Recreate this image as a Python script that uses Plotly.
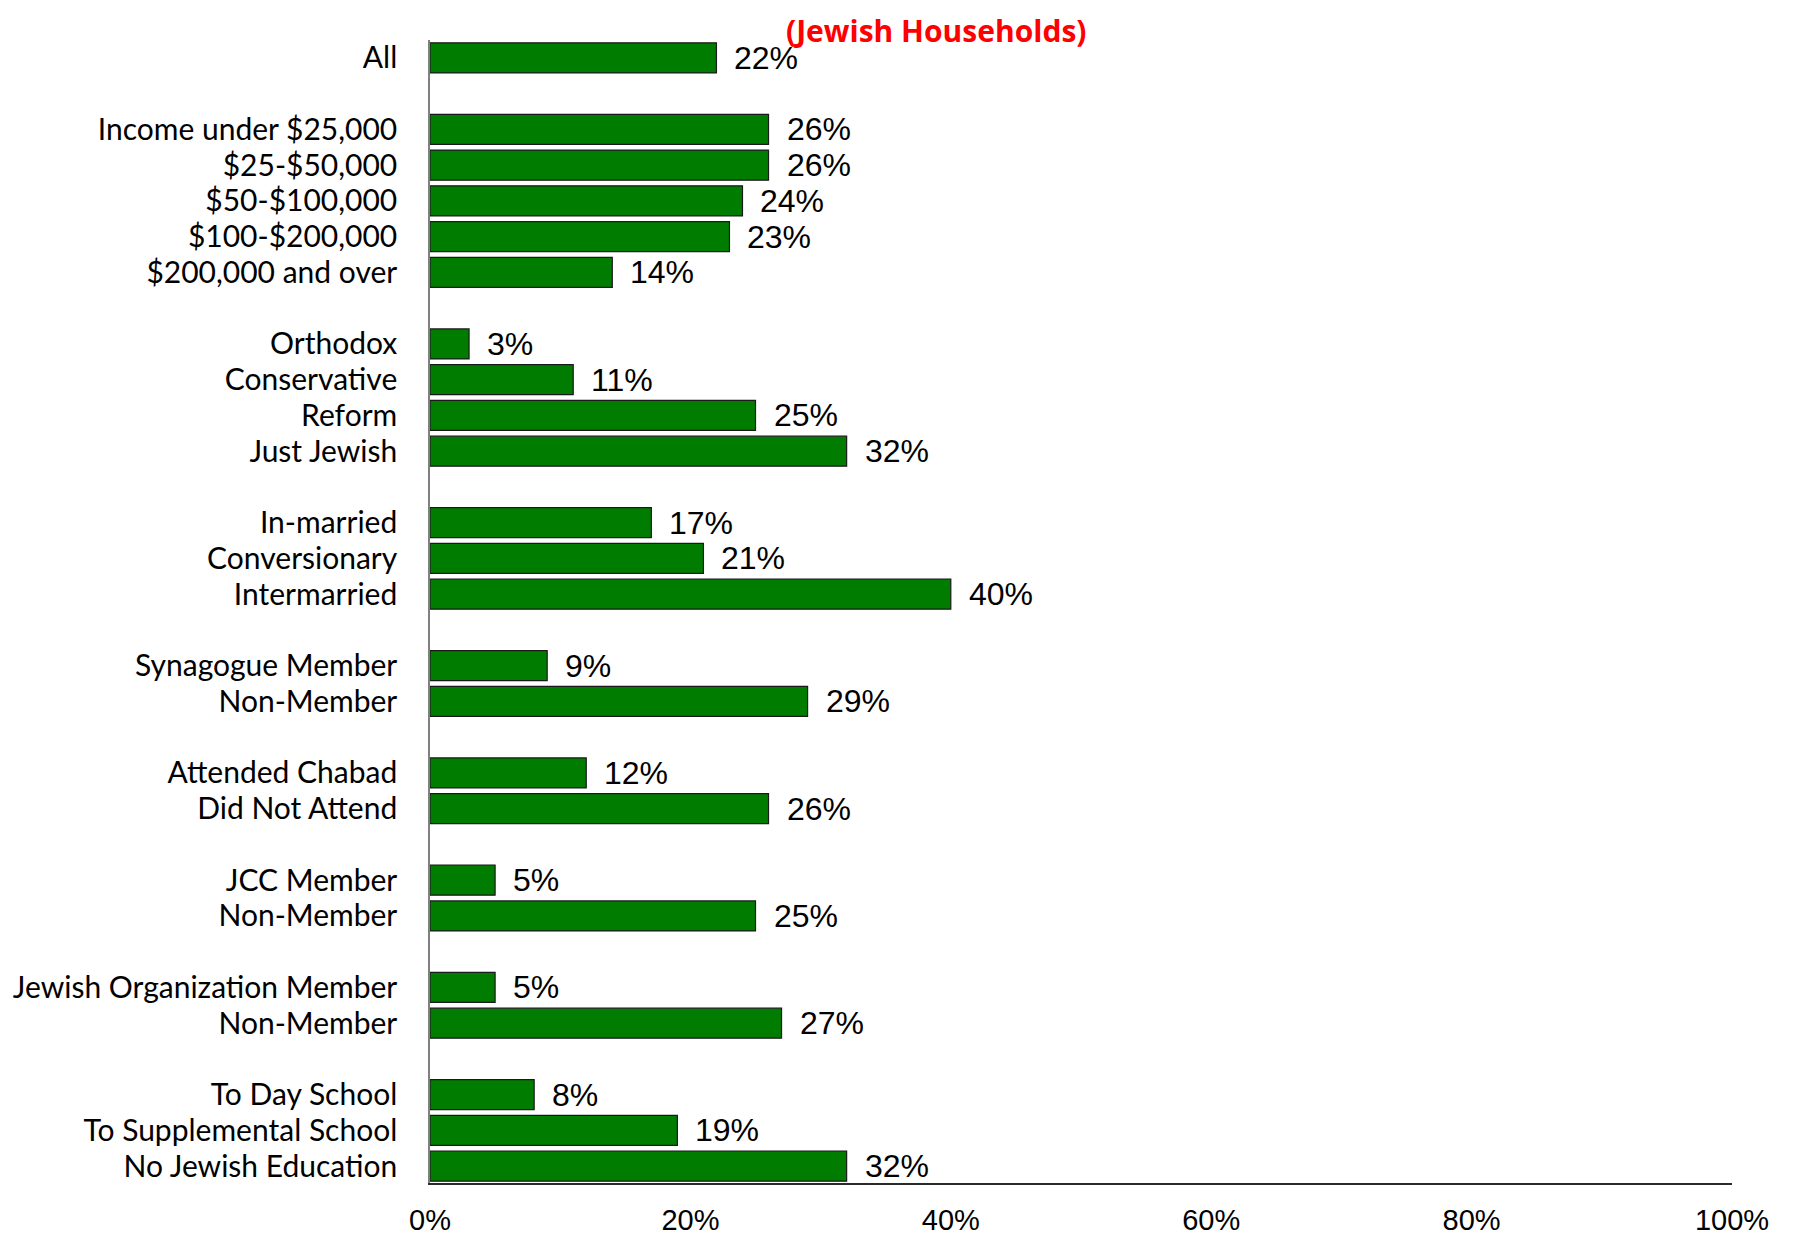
import plotly.graph_objects as go

# Data: groups of (label, value %)
groups = [
    (["All"], [22]),
    (["Income under $25,000", "$25-$50,000", "$50-$100,000", "$100-$200,000", "$200,000 and over"],
     [26, 26, 24, 23, 14]),
    (["Orthodox", "Conservative", "Reform", "Just Jewish"], [3, 11, 25, 32]),
    (["In-married", "Conversionary", "Intermarried"], [17, 21, 40]),
    (["Synagogue Member", "Non-Member"], [9, 29]),
    (["Attended Chabad", "Did Not Attend"], [12, 26]),
    (["JCC Member", "Non-Member"], [5, 25]),
    (["Jewish Organization Member", "Non-Member"], [5, 27]),
    (["To Day School", "To Supplemental School", "No Jewish Education"], [8, 19, 32]),
]
x_ticks = [0, 20, 40, 60, 80, 100]
x_tick_labels = ["0%", "20%", "40%", "60%", "80%", "100%"]
title_text = "(Jewish Households)"

# Build slot positions (one empty slot between groups)
labels, values, slots = [], [], []
slot = 0
for gi, (gl, gv) in enumerate(groups):
    if gi > 0:
        slot += 1
    for l, v in zip(gl, gv):
        labels.append(l)
        values.append(v)
        slots.append(slot)
        slot += 1
last_slot = slots[-1]

GREEN = "#007d00"
fig = go.Figure()
fig.add_trace(go.Bar(
    x=values, y=slots, orientation="h",
    marker=dict(color=GREEN, line=dict(color="#1a1a1a", width=1.2)),
    width=0.84, hoverinfo="skip",
))

for v, s in zip(values, slots):
    fig.add_annotation(
        x=v, y=s, text=f"{v}%", showarrow=False, xanchor="left", yanchor="middle",
        xshift=16, font=dict(family="Liberation Sans, Arial", size=32, color="#000"),
    )

fig.add_annotation(
    x=0.389, y=1.0, xref="paper", yref="paper", yshift=10, text=f"<b>{title_text}</b>",
    showarrow=False, xanchor="center", yanchor="middle",
    font=dict(family="Open Sans", size=30, color="#ff0000"),
)

fig.update_layout(
    width=1785, height=1227,
    margin=dict(l=422, r=61, t=32, b=52),
    paper_bgcolor="white", plot_bgcolor="white",
    showlegend=False,
    xaxis=dict(
        range=[0, 100], tickvals=x_ticks, ticktext=x_tick_labels,
        showgrid=False, zeroline=False, showline=True, linecolor="#2a2a2a", linewidth=2,
        ticks="", ticklabelstandoff=10, automargin=False,
        tickfont=dict(family="Liberation Sans, Arial", size=29, color="#000"),
        fixedrange=True,
    ),
    yaxis=dict(
        range=[last_slot + 0.47, -0.5], tickvals=slots, ticktext=labels,
        showgrid=False, zeroline=False, showline=True, linecolor="#808080", linewidth=1.5,
        ticks="", ticklabelstandoff=25, automargin=False,
        tickfont=dict(family="Lato", size=30, color="#000"),
        fixedrange=True,
    ),
)

fig.write_html("out.html")
